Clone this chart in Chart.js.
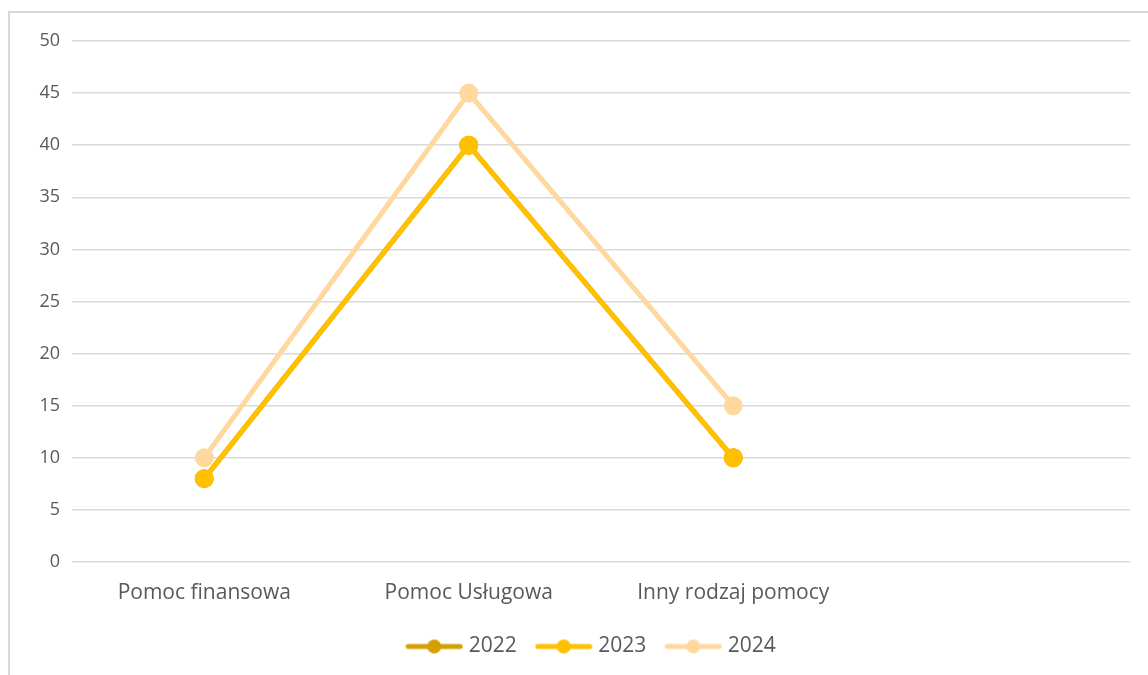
<!DOCTYPE html>
<html>
<head>
<meta charset="utf-8">
<script src="https://cdn.jsdelivr.net/npm/chart.js@4"></script>
<style>
  html, body { margin: 0; padding: 0; background: #fff; overflow: hidden; }
  #frame { position: absolute; left: 8px; top: 11px; width: 1200px; height: 700px; border: 2px solid #d9d9d9; box-sizing: border-box; }
  #wrap { position: absolute; left: 0; top: 0; width: 1148px; height: 675px; }
</style>
</head>
<body>
<div id="frame"></div>
<div id="wrap"><canvas id="myChart" width="1148" height="675"></canvas></div>
<script>
const categories = ['Pomoc finansowa', 'Pomoc Usługowa', 'Inny rodzaj pomocy', ''];
const values2022 = [8, 40, 10, null];
const values2023 = [8, 40, 10, null];
const values2024 = [10, 45, 15, null];
const yTicks = [0, 5, 10, 15, 20, 25, 30, 35, 40, 45, 50];

const font = 'Open Sans';
const textColor = '#595959';

// line with a dot in the middle, like the legend keys in the picture
function legendIcon(color) {
    const c = document.createElement('canvas');
    c.width = 58; c.height = 16;
    const g = c.getContext('2d');
    g.strokeStyle = color;
    g.lineWidth = 5;
    g.lineCap = 'round';
    g.beginPath(); g.moveTo(3, 8); g.lineTo(55, 8); g.stroke();
    g.fillStyle = color;
    g.beginPath(); g.arc(29, 8, 7, 0, Math.PI * 2); g.fill();
    return c;
}

// nudge the legend a bit to the right, it sits under the plot centre in the picture
const legendShift = {
    id: 'legendShift',
    afterLayout(chart) {
        const lg = chart.legend;
        lg.left += 28; lg.right += 28;
        lg.top -= 2; lg.bottom -= 2;
    }
};

const ctx = document.getElementById('myChart');

function series(label, data, color, order) {
    return {
        label: label,
        data: data,
        borderColor: color,
        backgroundColor: color,
        pointBackgroundColor: color,
        pointBorderColor: color,
        borderWidth: 5,
        pointRadius: 7,
        pointHoverRadius: 7,
        order: order,
        fill: false
    };
}

const chart = new Chart(ctx, {
    type: 'line',
    data: {
        labels: categories,
        datasets: [
            series('2022', values2022, '#D4A000', 1),
            series('2023', values2023, '#FFC000', 0),
            series('2024', values2024, '#FFD8A0', 2)
        ]
    },
    plugins: [legendShift],
    options: {
        responsive: false,
        animation: false,
        layout: { padding: { top: 41, right: 18, left: 0, bottom: 6 } },
        plugins: {
            tooltip: { enabled: false },
            legend: {
                position: 'bottom',
                labels: {
                    usePointStyle: true,
                    pointStyleWidth: 48,
                    padding: 23,
                    color: textColor,
                    font: { family: font, size: 21 },
                    sort: (a, b) => a.datasetIndex - b.datasetIndex,
                    generateLabels: c => Chart.defaults.plugins.legend.labels.generateLabels(c).map(item => {
                        item.pointStyle = legendIcon(c.data.datasets[item.datasetIndex].borderColor);
                        return item;
                    })
                }
            }
        },
        scales: {
            x: {
                offset: true,
                grid: { display: false },
                border: { display: false },
                ticks: { color: textColor, font: { family: font, size: 21 }, padding: 10, maxRotation: 0 },
                afterFit: s => { s.height = 53; }
            },
            y: {
                min: 0,
                max: 50,
                afterBuildTicks: s => { s.ticks = yTicks.map(v => ({ value: v })); },
                grid: { color: '#d9d9d9', lineWidth: 1.5, drawTicks: false },
                border: { display: false },
                ticks: { color: textColor, font: { family: font, size: 18 }, padding: 12 },
                afterFit: s => { s.width = 72; }
            }
        }
    }
});
</script>
</body>
</html>
